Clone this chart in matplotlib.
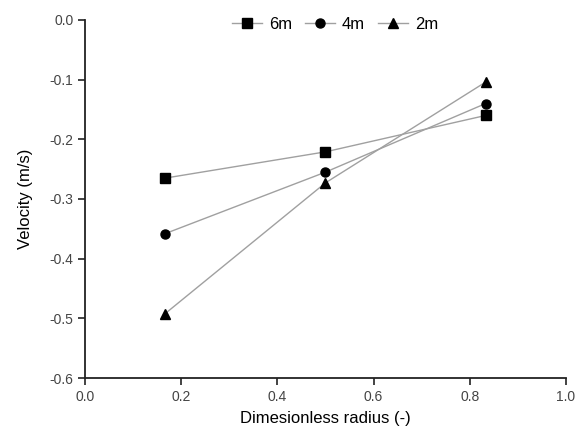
import matplotlib
matplotlib.use("Agg")
import matplotlib.pyplot as plt

plt.rcParams['font.family'] = ['Liberation Sans', 'DejaVu Sans']

# Данные
radius = [1/6, 0.5, 5/6]
series_names = ["6m", "4m", "2m"]
vel_6m = [-0.265, -0.221, -0.160]
vel_4m = [-0.358, -0.255, -0.140]
vel_2m = [-0.492, -0.273, -0.104]
markers = ["s", "o", "^"]

fig = plt.figure(figsize=(5.75, 4.34), dpi=100)
ax = fig.add_axes([0.148, 0.129, 0.836, 0.825])

for name, vals, m in zip(series_names, [vel_6m, vel_4m, vel_2m], markers):
    ax.plot(radius, vals, color="#a0a0a0", lw=1.0, marker=m, ms=6.5,
            mfc="black", mec="black", label=name)

ax.set_xlim(0, 1.0)
ax.set_ylim(-0.6, 0.0)
ax.set_xticks([0.0, 0.2, 0.4, 0.6, 0.8, 1.0])
ax.set_yticks([0.0, -0.1, -0.2, -0.3, -0.4, -0.5, -0.6])
ax.set_xticklabels(["0.0", "0.2", "0.4", "0.6", "0.8", "1.0"])
ax.set_yticklabels(["0.0", "-0.1", "-0.2", "-0.3", "-0.4", "-0.5", "-0.6"])

ax.spines["top"].set_visible(False)
ax.spines["right"].set_visible(False)
for side in ["left", "bottom"]:
    ax.spines[side].set_linewidth(1.3)
    ax.spines[side].set_color("#222222")
ax.tick_params(direction="out", length=5, width=1.2, labelsize=10,
               colors="#222222", labelcolor="#444444")

ax.set_xlabel("Dimesionless radius (-)", fontsize=12, labelpad=5)
ax.set_ylabel("Velocity (m/s)", fontsize=12, labelpad=12)

ax.legend(loc="upper center", bbox_to_anchor=(0.52, 1.05), ncol=3, frameon=False,
          fontsize=12, handlelength=1.8, columnspacing=0.8, handletextpad=0.4)

fig.savefig("out.png", dpi=100)
